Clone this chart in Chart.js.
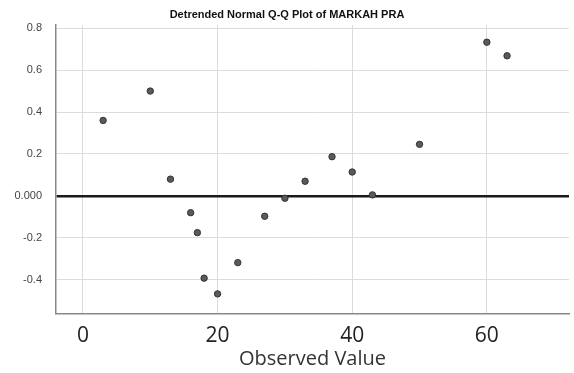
<!DOCTYPE html>
<html>
<head>
<meta charset="utf-8">
<script src="https://cdn.jsdelivr.net/npm/chart.js@4/dist/chart.umd.min.js"></script>
<style>
  html, body { margin: 0; padding: 0; background: #fff; }
  #wrap { width: 574px; height: 373px; }
</style>
</head>
<body>
<div id="wrap"><canvas id="qq" width="574" height="373"></canvas></div>
<script>
// observed values and their detrended deviations
const observed = [3, 10, 13, 16, 17, 18, 20, 23, 27, 30, 33, 37, 40, 43, 50, 60, 63];
const deviation = [0.36, 0.50, 0.08, -0.08, -0.175, -0.392, -0.467, -0.318, -0.097, -0.011, 0.07, 0.187, 0.114, 0.005, 0.246, 0.733, 0.668];
const xTicks = [0, 20, 40, 60];
const yTicks = [-0.4, -0.2, 0, 0.2, 0.4, 0.6, 0.8];

const points = observed.map((v, i) => ({ x: v, y: deviation[i] }));

const ctx = document.getElementById('qq').getContext('2d');
new Chart(ctx, {
  type: 'scatter',
  data: {
    datasets: [{
      data: points,
      backgroundColor: '#5a5a5a',
      borderColor: '#333',
      borderWidth: 1,
      pointRadius: 3.2
    }]
  },
  options: {
    responsive: false,
    animation: false,
    layout: { padding: { top: 0, left: 0, right: 0, bottom: 2 } },
    plugins: {
      legend: { display: false },
      tooltip: { enabled: false },
      title: {
        display: true,
        text: 'Detrended Normal Q-Q Plot of MARKAH PRA',
        color: '#111',
        font: { family: 'Liberation Sans, Arial', size: 11, weight: 'bold' },
        padding: { top: 8, bottom: 4 }
      }
    },
    scales: {
      x: {
        type: 'linear',
        min: -4,
        max: 72.2,
        afterBuildTicks: axis => { axis.ticks = xTicks.map(v => ({ value: v })); },
        grid: { color: '#dcdcdc', drawTicks: false },
        border: { color: '#888', width: 1.5 },
        ticks: {
          color: '#222',
          padding: 10,
          font: { family: 'Open Sans', size: 21 }
        },
        title: {
          display: true,
          text: 'Observed Value',
          color: '#333',
          padding: { top: -12, bottom: 0 },
          font: { family: 'Open Sans', size: 20 }
        }
      },
      y: {
        min: -0.562,
        max: 0.814,
        afterBuildTicks: axis => { axis.ticks = yTicks.map(v => ({ value: v })); },
        afterFit: axis => { axis.width = 56; },
        grid: {
          drawTicks: false,
          color: c => (c.tick && c.tick.value === 0 ? '#1a1a1a' : '#dcdcdc'),
          lineWidth: c => (c.tick && c.tick.value === 0 ? 2.5 : 1)
        },
        border: { color: '#888', width: 1.5 },
        ticks: {
          color: '#444',
          padding: 14,
          font: { family: 'Liberation Sans, Arial', size: 11 },
          callback: v => (Math.abs(v) < 1e-9 ? '0.000' : v.toFixed(1))
        }
      }
    }
  }
});
</script>
</body>
</html>
